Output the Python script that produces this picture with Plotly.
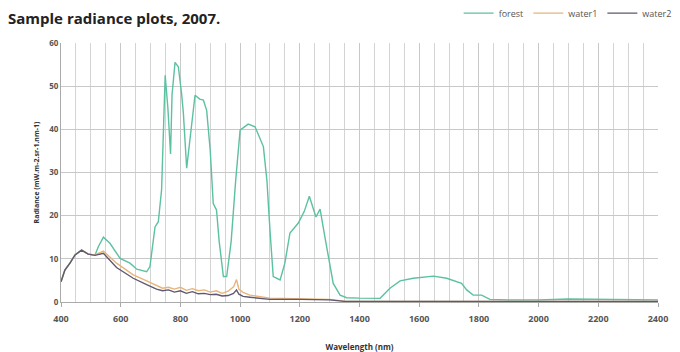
import plotly.graph_objects as go

forest_wl = [400, 413, 430, 447, 469, 491, 514, 525, 542, 564, 598, 631, 654, 687, 698, 715, 726, 737,
             749, 758, 767, 772, 782, 793, 804, 810, 821, 832, 849, 865, 877, 888, 900, 910, 921, 930,
             944, 955, 970, 985, 1000, 1027, 1050, 1078, 1090, 1100, 1111, 1134, 1150, 1167, 1195, 1215,
             1232, 1254, 1268, 1284, 1312, 1335, 1357, 1400, 1469, 1502, 1536, 1580, 1647, 1692, 1742,
             1759, 1781, 1809, 1837, 1900, 2000, 2100, 2200, 2300, 2400]
forest = [4.7, 7.4, 9.0, 10.9, 12.0, 11.1, 10.9, 12.8, 15.0, 13.6, 10.1, 9.0, 7.6, 7.0, 8.2, 17.4, 18.6, 26.0,
          52.5, 45.0, 34.3, 48.0, 55.5, 54.5, 48.3, 43.7, 31.0, 38.0, 47.9, 47.0, 46.8, 44.4, 35.0, 22.8, 21.3, 14.0,
          5.9, 5.9, 14.0, 28.0, 39.8, 41.2, 40.6, 36.0, 28.0, 16.7, 5.9, 5.1, 9.0, 16.0, 18.3, 21.0,
          24.5, 19.7, 21.5, 15.1, 4.3, 1.6, 1.0, 0.9, 0.85, 3.2, 4.9, 5.5, 6.0, 5.5, 4.3,
          2.8, 1.6, 1.6, 0.6, 0.5, 0.5, 0.7, 0.6, 0.5, 0.5]

water_wl = [400, 413, 430, 447, 469, 491, 514, 542, 586, 642, 687, 720, 740, 760, 780, 800, 820, 840, 860,
            880, 900, 920, 940, 960, 978, 988, 996, 1010, 1033, 1100, 1200, 1300, 1350, 1400, 1800, 2000, 2400]
water1 = [4.7, 7.4, 9.0, 10.9, 12.0, 11.1, 10.9, 11.8, 9.0, 6.3, 4.9, 3.8, 3.2, 3.4, 3.0, 3.4, 2.7, 3.1, 2.6,
          2.8, 2.3, 2.6, 2.0, 2.5, 3.5, 5.2, 3.0, 2.2, 1.6, 0.9, 0.8, 0.6, 0.2, 0.1, 0.1, 0.1, 0.1]
water2 = [4.7, 7.4, 9.0, 10.9, 12.0, 11.1, 10.8, 11.3, 8.0, 5.5, 4.0, 3.0, 2.6, 2.8, 2.3, 2.6, 2.0, 2.4, 1.9,
          2.0, 1.7, 1.8, 1.4, 1.5, 2.0, 2.8, 1.8, 1.3, 1.1, 0.6, 0.6, 0.5, 0.15, 0.1, 0.1, 0.1, 0.1]

fig = go.Figure()
fig.add_trace(go.Scatter(x=forest_wl, y=forest, name="forest", mode="lines",
                         line=dict(color="#5cc0a2", width=1.4)))
fig.add_trace(go.Scatter(x=water_wl, y=water1, name="water1", mode="lines",
                         line=dict(color="#e8b478", width=1.4)))
fig.add_trace(go.Scatter(x=water_wl, y=water2, name="water2", mode="lines",
                         line=dict(color="#5e5870", width=1.4)))

fig.update_layout(
    width=672, height=344,
    margin=dict(l=53, r=22, t=35, b=50, autoexpand=False),
    paper_bgcolor="white", plot_bgcolor="white",
    font=dict(family="Open Sans", color="#444"),
    title=dict(text="<b>Sample radiance plots, 2007.</b>", x=0.0, xref="container", xanchor="left",
               y=0.97, yref="container", yanchor="middle",
               font=dict(size=15, color="#222", family="Open Sans")),
    legend=dict(orientation="h", x=0.995, xref="container", xanchor="right",
                y=0.985, yref="container", yanchor="middle",
                font=dict(size=9, color="#555"), itemwidth=30, bgcolor="rgba(0,0,0,0)"),
    xaxis=dict(range=[400, 2400], dtick=200, tick0=400, showgrid=True, gridcolor="#c8c8c8", gridwidth=1,
               minor=dict(dtick=50, showgrid=True, gridcolor="#d4d4d4", gridwidth=1),
               zeroline=False, showline=True, linecolor="#aaa", ticks="outside", ticklen=4, tickcolor="#aaa",
               ticklabelstandoff=4, automargin=False,
               tickfont=dict(size=9, color="#555", weight="bold"),
               title=dict(text="<b>Wavelength (nm)</b>", font=dict(size=8, color="#333"), standoff=22)),
    yaxis=dict(range=[0, 60], dtick=10, showgrid=True, gridcolor="#c8c8c8", gridwidth=1,
               zeroline=False, showline=True, linecolor="#aaa", automargin=False,
               tickfont=dict(size=8, color="#555", weight="bold"),
               title=dict(text="<b>Radiance (mW.m-2.sr-1.nm-1)</b>", font=dict(size=7, color="#333"), standoff=8)),
)

fig.write_html("out.html")
